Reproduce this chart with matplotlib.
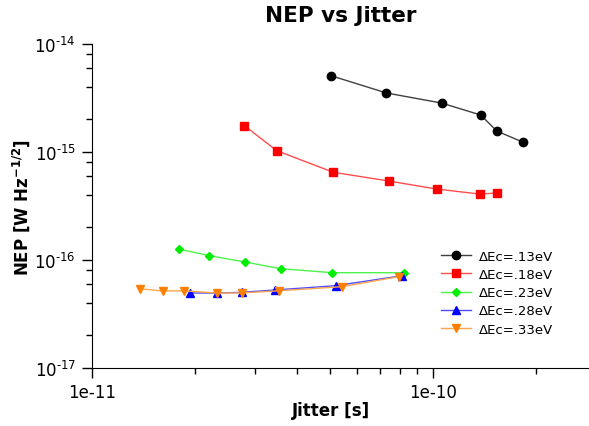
import matplotlib
matplotlib.use("Agg")
import matplotlib.pyplot as plt
from matplotlib.ticker import LogLocator, FixedLocator, FixedFormatter, NullFormatter, FuncFormatter
from matplotlib.colors import to_rgb
import math

labels = ["ΔEc=.13eV", "ΔEc=.18eV", "ΔEc=.23eV", "ΔEc=.28eV", "ΔEc=.33eV"]
colors = ["black", "#ff0000", "#00ee00", "#0000ff", "#ff8000"]
markers = ["o", "s", "D", "^", "v"]

x13 = [5.02e-11, 7.30e-11, 1.06e-10, 1.38e-10, 1.54e-10, 1.84e-10]
y13 = [5.09e-15, 3.52e-15, 2.84e-15, 2.20e-15, 1.56e-15, 1.23e-15]

x18 = [2.80e-11, 3.48e-11, 5.10e-11, 7.41e-11, 1.025e-10, 1.37e-10, 1.54e-10]
y18 = [1.75e-15, 1.03e-15, 6.49e-16, 5.39e-16, 4.54e-16, 4.08e-16, 4.17e-16]

x23 = [1.80e-11, 2.20e-11, 2.81e-11, 3.58e-11, 5.07e-11, 8.24e-11]
y23 = [1.26e-16, 1.10e-16, 9.58e-17, 8.31e-17, 7.63e-17, 7.63e-17]

x28 = [1.94e-11, 2.33e-11, 2.75e-11, 3.45e-11, 5.18e-11, 8.13e-11]
y28 = [4.95e-17, 4.94e-17, 5.02e-17, 5.28e-17, 5.78e-17, 7.16e-17]

x33 = [1.386e-11, 1.615e-11, 1.86e-11, 2.33e-11, 2.75e-11, 3.54e-11, 5.41e-11, 7.93e-11]
y33 = [5.42e-17, 5.16e-17, 5.19e-17, 4.94e-17, 4.95e-17, 5.19e-17, 5.66e-17, 7.01e-17]

xticks = [1e-11, 1e-10]
xticklabels = ["1e-11", "1e-10"]
yticks = [1e-17, 1e-16, 1e-15, 1e-14]

xs = [x13, x18, x23, x28, x33]
ys = [y13, y18, y23, y28, y33]
msizes = [6, 5.5, 4, 6, 6]


def lighten(c, f=0.3):
    r, g, b = to_rgb(c)
    return (r + (1 - r) * f, g + (1 - g) * f, b + (1 - b) * f)


def ylab(v, pos):
    e = int(round(math.log10(v)))
    return r"$\mathdefault{10^{\text{-}%d}}$" % (-e)


fig = plt.figure(figsize=(5.89, 4.27), dpi=100)
ax = fig.add_axes([92/589, 58/427, 497/589, 324/427])

for x, y, c, m, lab, ms in zip(xs, ys, colors, markers, labels, msizes):
    ax.plot(x, y, color=lighten(c, 0.3 if c != "black" else 0.25), marker=m, markersize=ms,
            linewidth=1.0, label=lab, markerfacecolor=c, markeredgecolor=c)

ax.set_xscale("log")
ax.set_yscale("log")
ax.set_xlim(1e-11, 10 ** (-11 + 497/341))
ax.set_ylim(1e-17, 1e-14)

ax.spines["top"].set_visible(False)
ax.spines["right"].set_visible(False)

ax.xaxis.set_major_locator(FixedLocator(xticks))
ax.xaxis.set_major_formatter(FixedFormatter(xticklabels))
ax.xaxis.set_minor_locator(LogLocator(base=10, subs=range(2, 10)))
ax.xaxis.set_minor_formatter(NullFormatter())
ax.yaxis.set_major_locator(FixedLocator(yticks))
ax.yaxis.set_major_formatter(FuncFormatter(ylab))
ax.yaxis.set_minor_locator(LogLocator(base=10, subs=(2, 4, 6, 8)))
ax.yaxis.set_minor_formatter(NullFormatter())

ax.tick_params(which="major", length=7, width=1, labelsize=12, direction="out")
ax.tick_params(which="minor", length=4.5, width=1, direction="out")
ax.tick_params(axis="y", which="major", pad=4.5)
ax.tick_params(axis="x", which="major", pad=3.5)

ax.set_title("NEP vs Jitter", fontsize=15.5, fontweight="bold", pad=16.5)
ax.set_xlabel("Jitter [s]", fontsize=12, fontweight="bold")
ax.xaxis.set_label_coords((331 - 92) / 497, -(402 - 369) / 324)
ax.set_ylabel(r"NEP [W Hz$^{\mathbf{-1/2}}$]", fontsize=12, fontweight="bold")
ax.yaxis.set_label_coords(-(92 - 32) / 497, (369 - 207) / 324)

ax.legend(loc="upper left", bbox_to_anchor=((438 - 92) / 497, (369 - 248) / 324),
          frameon=False, fontsize=9.5, handlelength=2.3, handletextpad=0.6,
          labelspacing=0.4, borderaxespad=0, borderpad=0.2)

fig.savefig("out.png", dpi=100)
